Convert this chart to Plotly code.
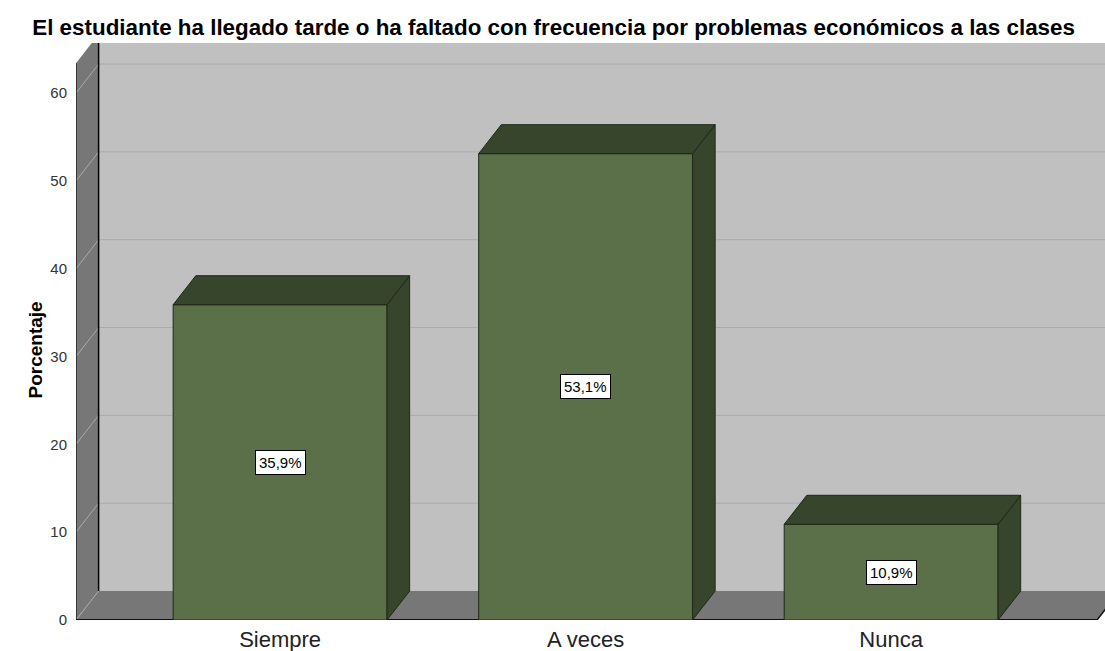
import plotly.graph_objects as go

categorias = ["Siempre", "A veces", "Nunca"]
porcentajes = [35.9, 53.1, 10.9]
y_ticks = [0, 10, 20, 30, 40, 50, 60]

titulo = "El estudiante ha llegado tarde o ha faltado con frecuencia por problemas económicos a las clases"

FONT = "Liberation Sans, Arial, sans-serif"
FRONT = "#5b7049"
DARK = "#37452c"
EDGE = "#1f2818"
WALL = "#c0c0c0"
SIDE_WALL = "#777777"
GRID = "#aaaaaa"

# axis extents (px layout: plot area 76..1105 x 43..620)
x_lo, x_hi = -0.668, 2.70
y_top = 65.7
dx, dy = 0.074, 3.3          # depth of the pseudo-3D effect
bar_w = 0.70
left_top = 63.4
floor_right = 2.674

shapes = []
# back wall
shapes.append(dict(type="rect", x0=x_lo + dx, x1=x_hi + 0.2, y0=dy, y1=y_top + 1,
                   fillcolor=WALL, line=dict(width=0), layer="below"))
# floor
shapes.append(dict(type="path",
                   path=f"M{x_lo},0 L{x_lo + dx},{dy} L{floor_right + dx},{dy} L{floor_right},0 Z",
                   fillcolor=SIDE_WALL, line=dict(width=0), layer="below"))
# left wall
shapes.append(dict(type="path",
                   path=f"M{x_lo},0 L{x_lo + dx},{dy} L{x_lo + dx},{y_top + 1} L{x_lo},{left_top} Z",
                   fillcolor=SIDE_WALL, line=dict(width=0), layer="below"))
# grid lines on back and left wall
for v in y_ticks:
    if v > 0:
        shapes.append(dict(type="line", x0=x_lo + dx, x1=x_hi + 0.2, y0=v + dy, y1=v + dy,
                           line=dict(color=GRID, width=1), layer="below"))
    shapes.append(dict(type="line", x0=x_lo, x1=x_lo + dx, y0=v, y1=v + dy,
                       line=dict(color=GRID, width=1), layer="below"))
# edges
shapes.append(dict(type="line", x0=x_lo + dx, x1=x_lo + dx, y0=dy, y1=y_top + 1,
                   line=dict(color="black", width=1.5), layer="below"))
shapes.append(dict(type="line", x0=x_lo, x1=x_lo, y0=0, y1=left_top,
                   line=dict(color="#222222", width=1.5), layer="below"))
shapes.append(dict(type="line", x0=x_lo, x1=floor_right, y0=0, y1=0,
                   line=dict(color="#111111", width=2), layer="below"))
shapes.append(dict(type="line", x0=floor_right, x1=floor_right + dx, y0=0, y1=dy,
                   line=dict(color="#111111", width=1.5), layer="below"))

fig = go.Figure()

# top and side faces of each bar
for i, v in enumerate(porcentajes):
    x0, x1 = i - bar_w / 2, i + bar_w / 2
    fig.add_trace(go.Scatter(
        x=[x1, x1, x1 + dx, x1 + dx, x1], y=[0, v, v + dy, dy, 0],
        mode="lines", fill="toself", fillcolor=DARK,
        line=dict(color=EDGE, width=1), hoverinfo="skip", showlegend=False))
    fig.add_trace(go.Scatter(
        x=[x0, x0 + dx, x1 + dx, x1, x0], y=[v, v + dy, v + dy, v, v],
        mode="lines", fill="toself", fillcolor=DARK,
        line=dict(color=EDGE, width=1), hoverinfo="skip", showlegend=False))

fig.add_trace(go.Bar(
    x=list(range(len(categorias))), y=porcentajes, width=bar_w,
    marker=dict(color=FRONT, line=dict(color=EDGE, width=1)),
    showlegend=False, hoverinfo="skip"))

for i, v in enumerate(porcentajes):
    fig.add_annotation(
        x=i, y=v / 2, text=f"{v:.1f}%".replace(".", ","), showarrow=False,
        font=dict(family=FONT, size=15, color="black"),
        bgcolor="white", bordercolor="black", borderwidth=1, borderpad=3)

fig.add_annotation(
    xref="paper", yref="paper", x=(22 - 76) / 1029, y=(620 - 350) / 577,
    text="<b>Porcentaje</b>", textangle=-90, showarrow=False,
    font=dict(family=FONT, size=19, color="black"))

fig.update_layout(
    width=1105, height=651,
    margin=dict(l=76, r=0, t=43, b=31),
    paper_bgcolor="white", plot_bgcolor="white",
    shapes=shapes,
    title=dict(text=f"<b>{titulo}</b>", x=0.501, xanchor="center",
               y=1 - 27 / 651, yanchor="middle", yref="container",
               font=dict(family=FONT, size=22.4, color="black")),
    font=dict(family=FONT),
)
fig.update_xaxes(
    range=[x_lo, x_hi], tickvals=list(range(len(categorias))), ticktext=categorias,
    showgrid=False, zeroline=False, showline=False, ticks="",
    tickfont=dict(family=FONT, size=22, color="#222222"), ticklabelstandoff=4)
fig.update_yaxes(
    range=[0, y_top], tickvals=y_ticks, showgrid=False, zeroline=False,
    showline=False, ticks="", ticklabelstandoff=8,
    tickfont=dict(family=FONT, size=15, color="#333333"))

fig.write_html(
    "out.html",
    config={"displayModeBar": False},
    post_script="document.body.style.margin='0';document.body.style.overflow='hidden';",
)
